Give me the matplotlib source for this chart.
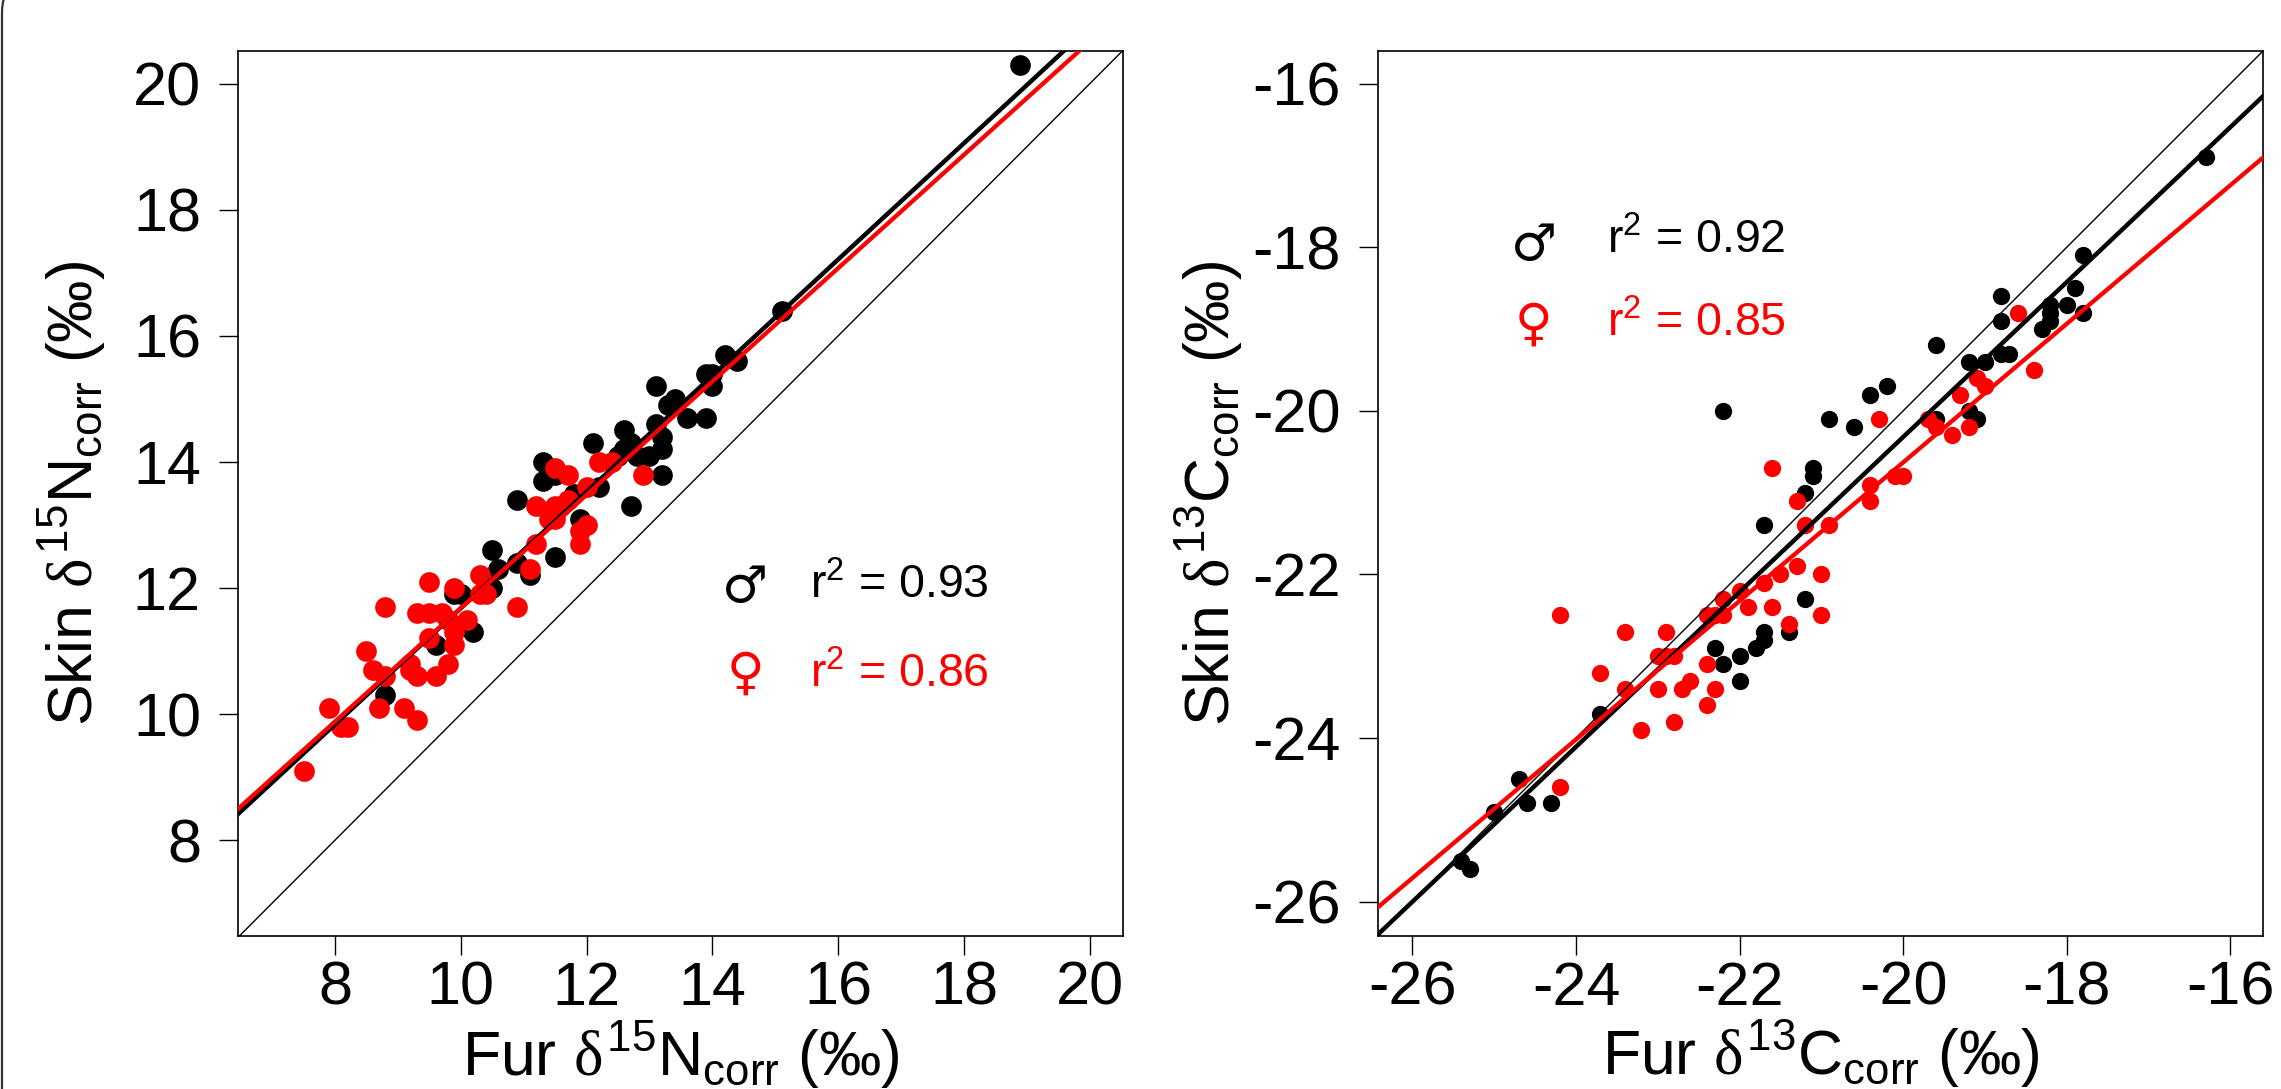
import matplotlib
matplotlib.use("Agg")
import matplotlib.pyplot as plt
from matplotlib.patches import PathPatch
from matplotlib.path import Path
import numpy as np

plt.rcParams['font.family'] = ['Liberation Sans', 'DejaVu Sans']
plt.rcParams['mathtext.fontset'] = 'custom'
plt.rcParams['mathtext.rm'] = 'Liberation Sans'
plt.rcParams['mathtext.it'] = 'Liberation Serif'
plt.rcParams['mathtext.bf'] = 'Liberation Sans:bold'
plt.rcParams['mathtext.default'] = 'rm'

# Left panel: nitrogen
n_male_x = [8.8, 9.6, 9.9, 10.0, 10.2, 10.5, 10.5, 10.6, 10.9, 11.1, 10.9, 11.5, 11.3, 11.3, 11.5, 11.8,
            11.9, 12.2, 12.7, 12.1, 12.5, 12.6, 12.7, 12.6, 12.8, 13.0, 13.1, 13.2, 13.2, 13.2, 13.3, 13.4,
            13.6, 13.9, 13.1, 13.9, 14.0, 14.0, 14.2, 14.4, 15.1, 18.9]
n_male_y = [10.3, 11.1, 11.9, 11.9, 11.3, 12.0, 12.6, 12.3, 12.4, 12.2, 13.4, 12.5, 14.0, 13.7, 13.8, 13.5,
            13.1, 13.6, 13.3, 14.3, 14.1, 14.5, 14.3, 14.2, 14.1, 14.1, 14.6, 14.4, 14.2, 13.8, 14.9, 15.0,
            14.7, 14.7, 15.2, 15.4, 15.4, 15.2, 15.7, 15.6, 16.4, 20.3]
n_female_x = [7.5, 7.9, 8.1, 8.2, 8.5, 8.6, 8.7, 8.8, 8.8, 9.1, 9.3, 9.2, 9.2, 9.3, 9.6, 9.8, 9.5, 9.9, 9.9,
              9.3, 9.5, 9.7, 9.8, 9.9, 10.1, 9.5, 9.9, 10.9, 10.3, 10.3, 10.4, 11.1, 11.2, 11.2, 11.4, 11.5,
              11.4, 11.5, 11.7, 11.6, 11.5, 11.7, 12.0, 12.0, 11.9, 11.9, 12.2, 12.4, 12.9]
n_female_y = [9.1, 10.1, 9.8, 9.8, 11.0, 10.7, 10.1, 10.6, 11.7, 10.1, 9.9, 10.8, 10.7, 10.6, 10.6, 10.8, 11.2,
              11.1, 11.3, 11.6, 11.6, 11.6, 11.5, 11.4, 11.5, 12.1, 12.0, 11.7, 12.2, 11.9, 11.9, 12.3, 12.7,
              13.3, 13.2, 13.3, 13.1, 13.1, 13.4, 13.3, 13.9, 13.8, 13.6, 13.0, 12.9, 12.7, 14.0, 14.0, 13.8]

# Right panel: carbon
c_male_x = [-25.4, -25.3, -25.0, -24.7, -24.6, -24.3, -23.7, -22.3, -22.2, -22.0, -22.0, -21.8, -21.7, -21.7,
            -21.4, -21.2, -21.7, -21.2, -21.1, -21.1, -22.2, -20.9, -20.6, -20.4, -20.2, -19.6, -19.6, -19.2,
            -19.0, -19.2, -19.1, -18.8, -18.7, -18.8, -18.8, -18.3, -18.2, -18.2, -18.2, -18.0, -17.9, -17.8,
            -17.8, -16.3]
c_male_y = [-25.5, -25.6, -24.9, -24.5, -24.8, -24.8, -23.7, -22.9, -23.1, -23.0, -23.3, -22.9, -22.8, -22.7,
            -22.7, -22.3, -21.4, -21.0, -20.8, -20.7, -20.0, -20.1, -20.2, -19.8, -19.7, -19.2, -20.1, -19.4,
            -19.4, -20.0, -20.1, -19.3, -19.3, -18.6, -18.9, -19.0, -18.9, -18.8, -18.7, -18.7, -18.5, -18.8,
            -18.1, -16.9]
c_female_x = [-24.2, -23.4, -22.9, -23.0, -22.9, -22.8, -23.7, -23.4, -23.0, -22.7, -22.6, -22.4, -22.3, -22.4,
              -22.8, -23.2, -24.2, -22.4, -22.3, -22.2, -22.2, -22.0, -21.9, -21.7, -21.6, -21.5, -21.4, -21.3,
              -21.0, -21.0, -20.9, -21.2, -21.3, -21.6, -20.4, -20.4, -20.1, -20.0, -20.3, -19.7, -19.6, -19.4,
              -19.2, -19.3, -19.1, -19.0, -18.4, -18.6]
c_female_y = [-22.5, -22.7, -22.7, -23.0, -23.0, -23.0, -23.2, -23.4, -23.4, -23.4, -23.3, -23.1, -23.4, -23.6,
              -23.8, -23.9, -24.6, -22.5, -22.5, -22.5, -22.3, -22.2, -22.4, -22.1, -22.4, -22.0, -22.6, -21.9,
              -22.0, -22.5, -21.4, -21.4, -21.1, -20.7, -20.9, -21.1, -20.8, -20.8, -20.1, -20.1, -20.2, -20.3,
              -20.2, -19.8, -19.6, -19.7, -19.5, -18.8]

# Regression fits (intercept, slope) and annotation text
n_male_fit = (2.46, 0.922)
n_female_fit = (2.69, 0.899)
c_male_fit = (-1.38, 0.947)
c_female_fit = (-3.69, 0.847)
n_ticks = [8, 10, 12, 14, 16, 18, 20]
c_ticks = [-26, -24, -22, -20, -18, -16]
n_r2 = ["0.93", "0.86"]
c_r2 = ["0.92", "0.85"]

W, H = 2281, 1089
fig = plt.figure(figsize=(W / 100, H / 100), dpi=100, facecolor='white')


def make_axes(left, xlim, ylim, ticks, tick_labels, xlabel, ylabel, mx, my, fx, fy, mfit, ffit, msize, ypad):
    ax = fig.add_axes([left / W, 1 - 936 / H, 885 / W, 885 / H])
    ax.set_xlim(xlim)
    ax.set_ylim(ylim)
    ax.set_xticks(ticks, tick_labels)
    ax.set_yticks(ticks, tick_labels)
    ax.tick_params(axis='x', length=13.7, width=1.0, labelsize=44, pad=4)
    ax.tick_params(axis='y', length=13.7, width=1.0, labelsize=44, pad=13)
    for s in ax.spines.values():
        s.set_linewidth(1.2)
    ax.scatter(mx, my, s=msize, c='black', linewidths=0, zorder=2)
    ax.scatter(fx, fy, s=msize, c='#ff0000', linewidths=0, zorder=3)
    xs = np.array(xlim)
    ax.plot(xs, xs, color='black', lw=1.0, zorder=4)
    ax.plot(xs, mfit[0] + mfit[1] * xs, color='black', lw=3.2, zorder=5)
    ax.plot(xs, ffit[0] + ffit[1] * xs, color='#ff0000', lw=3.1, zorder=6)
    ax.set_xlim(xlim)
    ax.set_ylim(ylim)
    ax.set_xlabel(xlabel, fontsize=45, labelpad=1)
    ax.set_ylabel(ylabel, fontsize=45, labelpad=ypad)
    return ax


def notes(ax, sym_x, txt_x, ym, yf, ysm, ysf, r2):
    ax.text(sym_x, ysm, '\u2642', color='black', fontsize=37, family='DejaVu Sans', ha='center', va='center', zorder=7)
    ax.text(sym_x, ysf, '\u2640', color='#ff0000', fontsize=37, family='DejaVu Sans', ha='center', va='center', zorder=7)
    ax.text(txt_x, ym, r'$\mathrm{r}^{2}$ = ' + r2[0], color='black', fontsize=33.5, ha='left', va='baseline', zorder=7)
    ax.text(txt_x, yf, r'$\mathrm{r}^{2}$ = ' + r2[1], color='#ff0000', fontsize=33.5, ha='left', va='baseline', zorder=7)


ax1 = make_axes(238, (6.458, 20.53), (6.48, 20.52), n_ticks, [str(t) for t in n_ticks],
                r'Fur $\mathit{\delta}^{15}\mathrm{N}_{\mathrm{corr}}$ (‰)',
                r'Skin $\mathit{\delta}^{15}\mathrm{N}_{\mathrm{corr}}$ (‰)',
                n_male_x, n_male_y, n_female_x, n_female_y, n_male_fit, n_female_fit, 222, 18)
notes(ax1, 14.52, 15.55, 11.84, 10.43, 12.0, 10.62, n_r2)

ax2 = make_axes(1378, (-26.42, -15.6), (-26.42, -15.6), c_ticks, [str(t) for t in c_ticks],
                r'Fur $\mathit{\delta}^{13}\mathrm{C}_{\mathrm{corr}}$ (‰)',
                r'Skin $\mathit{\delta}^{13}\mathrm{C}_{\mathrm{corr}}$ (‰)',
                c_male_x, c_male_y, c_female_x, c_female_y, c_male_fit, c_female_fit, 155, 5)
notes(ax2, -24.52, -23.62, -18.08, -19.09, -17.98, -18.96, c_r2)

# Edge of the source image's rounded frame, visible along the left side
edge = Path([(2 / W, 0), (2 / W, 1 - 14 / H), (2 / W, 1), (5 / W, 1 + 2 / H)],
            [Path.MOVETO, Path.LINETO, Path.CURVE3, Path.CURVE3])
fig.add_artist(PathPatch(edge, transform=fig.transFigure, fc='none', ec='#333333', lw=1.6))

fig.savefig('out.png', dpi=100)
